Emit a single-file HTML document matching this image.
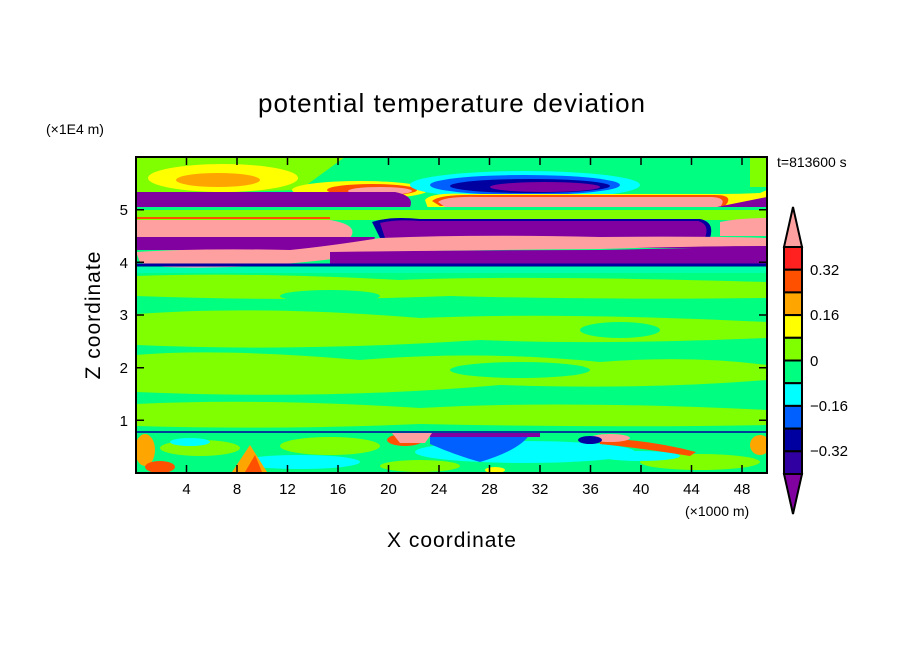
<!DOCTYPE html>
<html><head><meta charset="utf-8"><style>
html,body{margin:0;padding:0;background:#fff;}
svg{display:block;}
text{font-family:"Liberation Sans",sans-serif;fill:#000;}
</style></head><body>
<svg width="904" height="654" viewBox="0 0 904 654" xmlns="http://www.w3.org/2000/svg">
<defs><clipPath id="c"><rect x="136" y="157" width="631" height="316"/></clipPath></defs>
<g clip-path="url(#c)">
<rect x="136" y="157" width="631" height="316" fill="#00ff80"/>
<!-- top region -->
<path d="M136 157 H345 Q320 175 300 190 L136 195 Z" fill="#80ff00"/>
<rect x="750" y="157" width="17" height="30" fill="#80ff00"/>
<ellipse cx="223" cy="178" rx="75" ry="14" fill="#ffff00"/>
<ellipse cx="218" cy="180" rx="42" ry="7" fill="#ffa500"/>
<ellipse cx="360" cy="190" rx="68" ry="9" fill="#ffff00"/>
<ellipse cx="372" cy="190" rx="45" ry="6" fill="#ff5000"/>
<ellipse cx="380" cy="191" rx="32" ry="4" fill="#ffa0a0"/>
<ellipse cx="525" cy="185" rx="115" ry="14" fill="#00ffff"/>
<ellipse cx="525" cy="185" rx="95" ry="10" fill="#0060ff"/>
<ellipse cx="530" cy="186" rx="80" ry="7" fill="#0000a0"/>
<ellipse cx="545" cy="187" rx="55" ry="5" fill="#8000a0"/>
<path d="M136 192 H395 Q415 196 410 207 H136 Z" fill="#8000a0"/>
<path d="M425 200 Q430 192 470 194 H720 Q740 194 760 193 L767 190 V214 H430 Z" fill="#ffff00"/>
<path d="M432 201 Q440 194 480 195 H715 Q735 195 725 206 H440 Z" fill="#ff5000"/>
<path d="M438 202 Q445 196 480 197 H712 Q728 198 720 207 H445 Z" fill="#ffa0a0"/>
<path d="M712 208 L767 197 V208 Z" fill="#8000a0"/>
<rect x="136" y="207" width="631" height="3" fill="#00ff80"/>
<rect x="136" y="210" width="631" height="10" fill="#80ff00"/>
<!-- middle stack -->
<path d="M136 220 H330 Q360 225 350 238 H136 Z" fill="#ffa0a0"/>
<path d="M136 218 H330" stroke="#ff5000" stroke-width="2"/>
<path d="M372 222 Q390 216 420 219 H700 Q715 222 710 238 H380 Z" fill="#0000a0"/>
<path d="M380 223 Q395 219 420 221 H698 Q710 224 705 238 H385 Z" fill="#8000a0"/>
<path d="M720 222 Q740 218 767 218 V236 H720 Z" fill="#ffa0a0"/>
<path d="M136 237 H375 L370 250 H136 Z" fill="#8000a0"/>
<path d="M380 238 H767 V248 H380 Z" fill="#8000a0"/>
<path d="M136 252 Q200 248 290 250 Q330 246 380 238 Q480 234 600 237 Q700 236 767 238 V246 Q700 246 600 249 Q470 250 380 252 Q300 266 200 268 Q150 268 140 262 Z" fill="#ffa0a0"/>
<path d="M330 252 Q480 250 600 250 Q700 248 767 246 V265 H330 Z" fill="#8000a0"/>
<path d="M136 265 H767" stroke="#0000a0" stroke-width="3"/>
<rect x="136" y="267" width="631" height="6" fill="#00ffff" opacity="0.35"/>
<!-- mid field lime patches -->
<path d="M136 276 Q250 272 400 280 Q520 275 767 282 V298 Q600 300 450 296 Q300 302 136 296 Z" fill="#80ff00"/>
<path d="M136 314 Q260 305 420 318 Q560 312 767 322 V338 Q600 345 480 340 Q300 352 136 345 Z" fill="#80ff00"/>
<path d="M136 355 Q220 348 360 360 Q480 350 600 362 Q690 355 767 365 V380 Q640 390 500 385 Q330 400 136 392 Z" fill="#80ff00"/>
<path d="M136 404 Q260 398 420 408 Q560 400 767 410 V425 Q600 428 420 424 Q280 430 136 426 Z" fill="#80ff00"/>
<ellipse cx="250" cy="330" rx="60" ry="10" fill="#80ff00"/>
<ellipse cx="520" cy="370" rx="70" ry="8" fill="#00ff80"/>
<ellipse cx="330" cy="296" rx="50" ry="6" fill="#00ff80"/>
<ellipse cx="620" cy="330" rx="40" ry="8" fill="#00ff80"/>
<!-- bottom region -->
<path d="M136 432 H767" stroke="#0000a0" stroke-width="1.5"/>
<rect x="136" y="433" width="631" height="40" fill="#00ff80"/>
<ellipse cx="200" cy="448" rx="40" ry="8" fill="#80ff00"/>
<ellipse cx="330" cy="446" rx="50" ry="9" fill="#80ff00"/>
<ellipse cx="700" cy="462" rx="60" ry="8" fill="#80ff00"/>
<ellipse cx="420" cy="466" rx="40" ry="6" fill="#80ff00"/>
<ellipse cx="300" cy="462" rx="60" ry="7" fill="#00ffff"/>
<ellipse cx="525" cy="452" rx="110" ry="11" fill="#00ffff"/>
<ellipse cx="640" cy="456" rx="40" ry="5" fill="#00ffff"/>
<path d="M430 434 H530 Q520 450 480 462 Q455 455 430 444 Z" fill="#0060ff"/>
<path d="M430 433 H540 V437 H430 Z" fill="#8000a0"/>
<ellipse cx="145" cy="450" rx="10" ry="16" fill="#ffa500"/>
<ellipse cx="160" cy="467" rx="15" ry="6" fill="#ff5000"/>
<path d="M232 472 L250 445 L267 472 Z" fill="#ffa500"/>
<path d="M245 472 L255 455 L262 472 Z" fill="#ff5000"/>
<ellipse cx="405" cy="440" rx="18" ry="6" fill="#ff5000"/>
<path d="M392 433 H432 L425 443 H400 Z" fill="#ffa0a0"/>
<path d="M600 438 Q650 440 696 452 L690 456 Q640 448 600 444 Z" fill="#ff5000"/>
<ellipse cx="610" cy="438" rx="20" ry="4" fill="#ffa0a0"/>
<ellipse cx="590" cy="440" rx="12" ry="4" fill="#0000a0"/>
<ellipse cx="190" cy="442" rx="20" ry="4" fill="#00ffff"/>
<ellipse cx="760" cy="445" rx="10" ry="10" fill="#ffa500"/>
<ellipse cx="495" cy="470" rx="10" ry="3" fill="#ffff00"/>
</g>
<rect x="136" y="157" width="631" height="316" fill="none" stroke="#000" stroke-width="2"/>
<!-- ticks -->
<g stroke="#000" stroke-width="1.5">
<path d="M186.5 473 v-8 M237 473 v-8 M287.5 473 v-8 M338 473 v-8 M388.5 473 v-8 M439 473 v-8 M489.5 473 v-8 M540 473 v-8 M590.5 473 v-8 M641 473 v-8 M691.5 473 v-8 M742 473 v-8"/>
<path d="M186.5 157 v8 M237 157 v8 M287.5 157 v8 M338 157 v8 M388.5 157 v8 M439 157 v8 M489.5 157 v8 M540 157 v8 M590.5 157 v8 M641 157 v8 M691.5 157 v8 M742 157 v8"/>
<path d="M136 420.3 h8 M136 367.7 h8 M136 315 h8 M136 262.3 h8 M136 209.7 h8"/>
<path d="M767 420.3 h-8 M767 367.7 h-8 M767 315 h-8 M767 262.3 h-8 M767 209.7 h-8"/>
</g>
<g font-size="15" text-anchor="middle">
<text x="186.5" y="494">4</text><text x="237" y="494">8</text><text x="287.5" y="494">12</text>
<text x="338" y="494">16</text><text x="388.5" y="494">20</text><text x="439" y="494">24</text>
<text x="489.5" y="494">28</text><text x="540" y="494">32</text><text x="590.5" y="494">36</text>
<text x="641" y="494">40</text><text x="691.5" y="494">44</text><text x="742" y="494">48</text>
</g>
<g font-size="15" text-anchor="end">
<text x="128" y="426">1</text><text x="128" y="373">2</text><text x="128" y="320">3</text>
<text x="128" y="268">4</text><text x="128" y="215">5</text>
</g>
<text x="685" y="516" font-size="14">(×1000 m)</text>
<text x="46" y="134" font-size="14">(×1E4 m)</text>
<text x="777" y="167" font-size="14">t=813600 s</text>
<text x="452" y="112" font-size="26" text-anchor="middle" letter-spacing="1">potential temperature deviation</text>
<text x="452" y="547" font-size="21" text-anchor="middle" letter-spacing="1">X coordinate</text>
<text transform="translate(100 315) rotate(-90)" font-size="21" text-anchor="middle" letter-spacing="1">Z coordinate</text>
<!-- colorbar -->
<g stroke="#000" stroke-width="2">
<path d="M793 207 L784 247 H802 Z" fill="#ffa0a0"/>
<rect x="784" y="247" width="18" height="22.7" fill="#ff2020"/>
<rect x="784" y="269.7" width="18" height="22.7" fill="#ff5000"/>
<rect x="784" y="292.4" width="18" height="22.7" fill="#ffa500"/>
<rect x="784" y="315.1" width="18" height="22.7" fill="#ffff00"/>
<rect x="784" y="337.8" width="18" height="22.7" fill="#80ff00"/>
<rect x="784" y="360.5" width="18" height="22.7" fill="#00ff80"/>
<rect x="784" y="383.2" width="18" height="22.7" fill="#00ffff"/>
<rect x="784" y="405.9" width="18" height="22.7" fill="#0060ff"/>
<rect x="784" y="428.6" width="18" height="22.7" fill="#0000a0"/>
<rect x="784" y="451.3" width="18" height="22.7" fill="#3000a0"/>
<path d="M784 474 H802 L793 514 Z" fill="#8000a0"/>
</g>
<g font-size="15">
<text x="810" y="275">0.32</text><text x="810" y="320">0.16</text><text x="810" y="366">0</text>
<text x="810" y="411">−0.16</text><text x="810" y="456">−0.32</text>
</g>
</svg>
</body></html>
